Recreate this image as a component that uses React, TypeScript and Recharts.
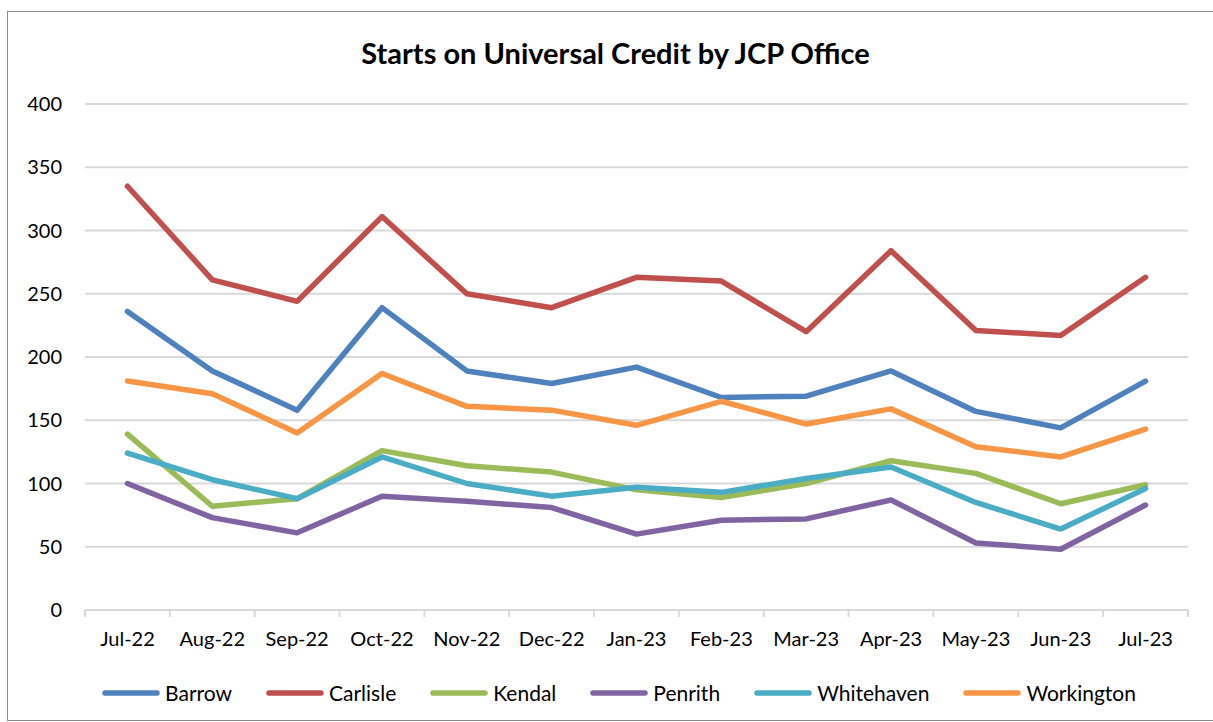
import React from 'react';
import { LineChart, Line, XAxis, YAxis, CartesianGrid, Legend } from 'recharts';

const months = ['Jul-22', 'Aug-22', 'Sep-22', 'Oct-22', 'Nov-22', 'Dec-22', 'Jan-23', 'Feb-23', 'Mar-23', 'Apr-23', 'May-23', 'Jun-23', 'Jul-23'];
const barrow = [236, 189, 158, 239, 189, 179, 192, 168, 169, 189, 157, 144, 181];
const carlisle = [335, 261, 244, 311, 250, 239, 263, 260, 220, 284, 221, 217, 263];
const kendal = [139, 82, 88, 126, 114, 109, 95, 89, 100, 118, 108, 84, 99];
const penrith = [100, 73, 61, 90, 86, 81, 60, 71, 72, 87, 53, 48, 83];
const whitehaven = [124, 103, 88, 121, 100, 90, 97, 93, 104, 113, 85, 64, 96];
const workington = [181, 171, 140, 187, 161, 158, 146, 165, 147, 159, 129, 121, 143];
const yTicks = [0, 50, 100, 150, 200, 250, 300, 350, 400];

const series = [
  { key: 'Barrow', values: barrow, color: '#4F81BD' },
  { key: 'Carlisle', values: carlisle, color: '#C0504D' },
  { key: 'Kendal', values: kendal, color: '#9BBB59' },
  { key: 'Penrith', values: penrith, color: '#8064A2' },
  { key: 'Whitehaven', values: whitehaven, color: '#4BACC6' },
  { key: 'Workington', values: workington, color: '#F79646' },
];

const data = months.map((m, i) => {
  const row: any = { month: m };
  series.forEach((s) => {
    row[s.key] = s.values[i];
  });
  return row;
});

const FONT = 'Lato, "Open Sans", sans-serif';
// half of one category slot (plot is 1104px wide, 13 months)
const HALF_STEP = 1104 / 13 / 2;

const MonthTick = (props: any) => {
  const { x, y, payload, index } = props;
  return (
    <g>
      <line x1={x - HALF_STEP} x2={x - HALF_STEP} y1={y - 8} y2={y - 1} stroke="#D9D9D9" strokeWidth={2} />
      {index === months.length - 1 && (
        <line x1={x + HALF_STEP} x2={x + HALF_STEP} y1={y - 8} y2={y - 1} stroke="#D9D9D9" strokeWidth={2} />
      )}
      <text x={x} y={y + 28} textAnchor="middle" fontSize={20} fill="#000" fontFamily={FONT}>
        {payload.value}
      </text>
    </g>
  );
};

const LegendContent = () => (
  <div style={{ display: 'flex', justifyContent: 'center', alignItems: 'center', fontFamily: FONT, fontSize: 21, paddingLeft: 76 }}>
    {series.map((s) => (
      <div key={s.key} style={{ display: 'flex', alignItems: 'center', marginRight: 34 }}>
        <svg width={58} height={10} style={{ marginRight: 5 }}>
          <line x1={3} x2={55} y1={5} y2={5} stroke={s.color} strokeWidth={5.5} strokeLinecap="round" />
        </svg>
        <span>{s.key}</span>
      </div>
    ))}
  </div>
);

export default function App() {
  return (
    <div
      style={{
        position: 'absolute',
        left: 7,
        top: 11,
        width: 1206,
        height: 710,
        border: '1px solid #8c8c8c',
        borderRight: 'none',
        background: '#fff',
        boxSizing: 'border-box',
      }}
    >
      <div
        style={{
          position: 'absolute',
          top: 23,
          width: '100%',
          textAlign: 'center',
          fontFamily: FONT,
          fontWeight: 'bold',
          fontSize: 29,
          color: '#000',
          paddingLeft: 10,
          boxSizing: 'border-box',
        }}
      >
        Starts on Universal Credit by JCP Office
      </div>
      <LineChart width={1204} height={708} data={data} margin={{ top: 92, right: 24, left: 0, bottom: 0 }}>
        <CartesianGrid vertical={false} stroke="#D9D9D9" strokeWidth={2} />
        <XAxis
          dataKey="month"
          stroke="#D9D9D9"
          strokeWidth={2}
          tickLine={false}
          tick={<MonthTick />}
          interval={0}
          height={70}
          padding={{ left: HALF_STEP, right: HALF_STEP }}
        />
        <YAxis
          domain={[0, 400]}
          ticks={yTicks}
          axisLine={false}
          tickLine={false}
          tickSize={0}
          tickMargin={23}
          width={77}
          tick={{ fill: '#000', fontSize: 20, fontFamily: FONT }}
        />
        <Legend verticalAlign="bottom" height={40} content={<LegendContent />} />
        {series.map((s) => (
          <Line
            key={s.key}
            type="linear"
            dataKey={s.key}
            stroke={s.color}
            strokeWidth={5.5}
            dot={false}
            strokeLinecap="round"
            strokeLinejoin="round"
            isAnimationActive={false}
          />
        ))}
      </LineChart>
    </div>
  );
}
